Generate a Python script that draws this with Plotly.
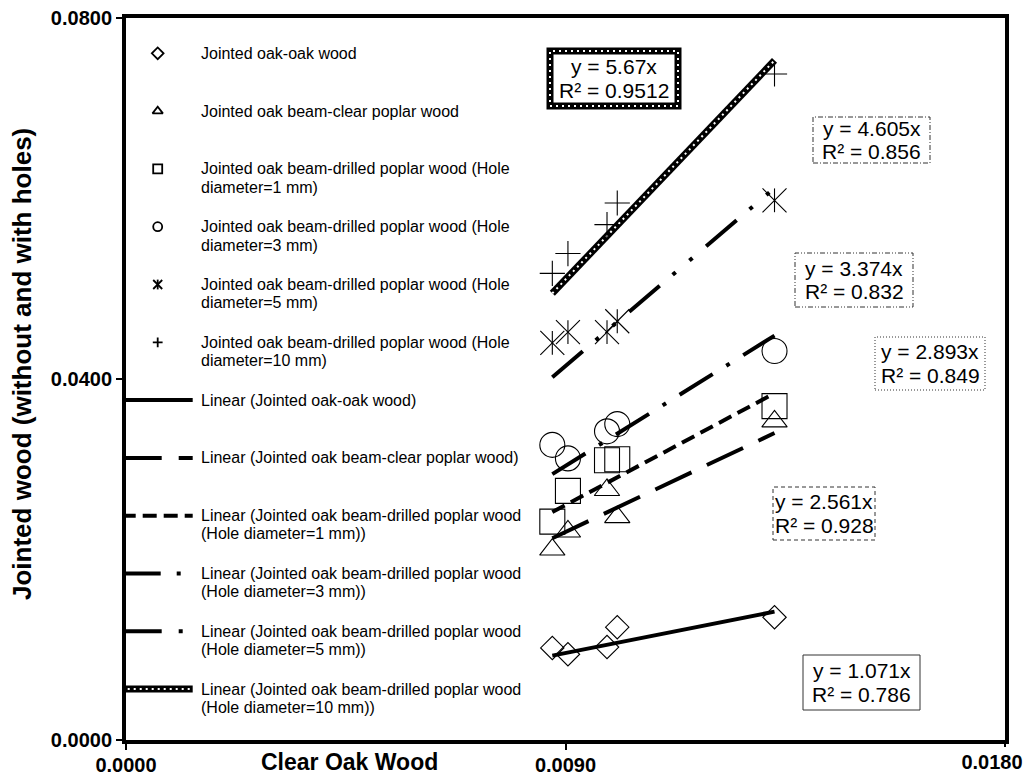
import plotly.graph_objects as go

# ---- data -----------------------------------------------------------------
# Clear oak wood readings (shared x for every joint type)
clear_oak = [0.00873, 0.00905, 0.00985, 0.01006, 0.01328]

# Jointed wood readings, one list per joint type
oak_oak = [0.0102, 0.0095, 0.0103, 0.0125, 0.0136]
clear_poplar = [0.0211, 0.0231, 0.0277, 0.0247, 0.0353]
drilled_1mm = [0.0242, 0.0276, 0.0310, 0.0311, 0.0370]
drilled_3mm = [0.0327, 0.0312, 0.0342, 0.0350, 0.0431]
drilled_5mm = [0.0440, 0.0452, 0.0452, 0.0464, 0.0598]
drilled_10mm = [0.0517, 0.0539, 0.0571, 0.0595, 0.0738]

series_names = [
    "Jointed oak-oak wood",
    "Jointed oak beam-clear poplar wood",
    "Jointed oak beam-drilled poplar wood (Hole diameter=1 mm)",
    "Jointed oak beam-drilled poplar wood (Hole diameter=3 mm)",
    "Jointed oak beam-drilled poplar wood (Hole diameter=5 mm)",
    "Jointed oak beam-drilled poplar wood (Hole diameter=10 mm)",
]

# Linear trend lines through the origin: slope and R² per series
slopes = [1.071, 2.561, 2.893, 3.374, 4.605, 5.67]
r_squared = ["0.786", "0.928", "0.849", "0.832", "0.856", "0.9512"]

x_ticks = [0.0, 0.009, 0.018]
x_tick_labels = ["0.0000", "0.0090", "0.0180"]
y_ticks = [0.0, 0.04, 0.08]
y_tick_labels = ["0.0000", "0.0400", "0.0800"]

x_title = "Clear Oak Wood"
y_title = "Jointed wood (without and with holes)"

# ---- styling --------------------------------------------------------------
W, H = 1025, 777
ML, MR, MT, MB = 126, 20, 18, 37
PW, PH = W - ML - MR, H - MT - MB
FONT = "Liberation Sans, Arial, sans-serif"


def fx(px):
    return (px - ML) / PW


def fy(py):
    return 1 - (py - MT) / PH


# marker symbol layers for each series (star = x plus vertical bar)
symbols = [
    [("diamond-open", 18, 9)],
    [("triangle-up-open", 22, 9)],
    [("square-open", 25, 9)],
    [("circle-open", 25, 9)],
    [("x-thin-open", 24, 9), ("line-ns-open", 17, 7)],
    [("cross-thin-open", 18, 7)],
]

# trend line strokes: list of (width, colour, dash)
trend_styles = [
    [(4, "black", "solid")],
    [(4, "black", "40px,17px")],
    [(4, "black", "14px,7px")],
    [(4, "black", "39px,16px,4px,16px")],
    [(4, "black", "40px,17px,4px,18px,4px,18px")],
    [(7, "black", "solid"), (2, "white", "2px,4px")],
]

series_values = [oak_oak, clear_poplar, drilled_1mm, drilled_3mm,
                 drilled_5mm, drilled_10mm]

fig = go.Figure()

# trend lines drawn from the stated slopes across the measured range
x_lo, x_hi = min(clear_oak), max(clear_oak)
for slope, styles in zip(slopes, trend_styles):
    for width, colour, dash in styles:
        fig.add_trace(go.Scatter(
            x=[x_lo, x_hi], y=[slope * x_lo, slope * x_hi], mode="lines",
            line=dict(color=colour, width=width, dash=dash),
            hoverinfo="skip", showlegend=False))

# measured points
for name, vals, layers in zip(series_names, series_values, symbols):
    for sym, size, _ in layers:
        fig.add_trace(go.Scatter(
            x=clear_oak, y=vals, mode="markers", name=name,
            marker=dict(symbol=sym, size=size, color="black",
                        line=dict(color="black", width=1.1)),
            showlegend=False))

# empty trace that brings up the secondary x axis carrying the last tick
fig.add_trace(go.Scatter(x=[], y=[], xaxis="x3", yaxis="y",
                         hoverinfo="skip", showlegend=False))

# ---- legend (drawn on an overlay axis in figure-fraction units) ------------
LEG_TOP, LEG_STEP, LEG_LINE = 53.3, 57.8, 18.3
SYM_X, TEXT_X = 157.7, 198.5
annotations = []


def legend_text(lines, row):
    y0 = LEG_TOP + LEG_STEP * row
    for k, line in enumerate(lines):
        annotations.append(dict(
            x=fx(TEXT_X), y=fy(y0 + k * LEG_LINE), xref="paper", yref="paper",
            text=line, showarrow=False, xanchor="left", yanchor="middle",
            font=dict(family=FONT, size=16, color="black")))
    return y0


for i, (name, layers) in enumerate(zip(series_names, symbols)):
    if "(Hole" in name:
        head, tail = name.split(" (Hole ")
        lines = [head + " (Hole", tail]
    else:
        lines = [name]
    y0 = legend_text(lines, i)
    for sym, _, lsize in layers:
        fig.add_trace(go.Scatter(
            x=[fx(SYM_X)], y=[fy(y0)], xaxis="x2", yaxis="y2", mode="markers",
            marker=dict(symbol=sym, size=lsize, color="black",
                        line=dict(color="black", width=1.8)),
            cliponaxis=False, hoverinfo="skip", showlegend=False))

for i, (name, styles) in enumerate(zip(series_names, trend_styles)):
    full = "Linear (" + name + ")"
    if "(Hole" in name:
        head, tail = full.split(" (Hole ")
        lines = [head, "(Hole " + tail]
    else:
        lines = [full]
    y0 = legend_text(lines, 6 + i)
    for width, colour, dash in styles:
        fig.add_trace(go.Scatter(
            x=[fx(121.7), fx(192.7)], y=[fy(y0), fy(y0)], xaxis="x2",
            yaxis="y2", mode="lines",
            line=dict(color=colour, width=width, dash=dash),
            hoverinfo="skip", showlegend=False))

# ---- equation boxes ---------------------------------------------------------
# (slope index, left, right, top, bottom, border dash)
eq_boxes = [
    (5, 550, 678, 51, 106, "thick"),
    (4, 813, 930, 117, 163, "5px,2px,1px,2px"),
    (3, 795, 913, 253, 307, "5px,2px,1px,2px,1px,2px"),
    (2, 875, 985, 337, 390, "1px,2px"),
    (1, 773, 875, 487, 540, "4px,3px"),
    (0, 803, 920, 655, 710, "solid"),
]
shapes = []
for idx, x0, x1, y0, y1, dash in eq_boxes:
    rect = dict(type="rect", xref="paper", yref="paper",
                x0=fx(x0), x1=fx(x1), y0=fy(y1), y1=fy(y0),
                fillcolor="white", layer="above")
    if dash == "thick":
        shapes.append(dict(rect, line=dict(color="black", width=7)))
        shapes.append(dict(rect, fillcolor="rgba(0,0,0,0)",
                           line=dict(color="white", width=2, dash="2px,4px")))
    else:
        shapes.append(dict(rect, line=dict(color="#333333", width=1,
                                           dash=dash)))
    yc = (y0 + y1) / 2
    xc = (x0 + x1) / 2
    for k, line in enumerate([f"y = {slopes[idx]}x",
                              f"R² = {r_squared[idx]}"]):
        annotations.append(dict(
            x=fx(xc), y=fy(yc - 11.7 + 23.4 * k), xref="paper", yref="paper",
            text=line, showarrow=False, xanchor="center", yanchor="middle",
            font=dict(family=FONT, size=21, color="black")))

# axis titles
annotations.append(dict(
    x=fx(349), y=fy(762), xref="paper", yref="paper", text=f"<b>{x_title}</b>",
    showarrow=False, xanchor="center", yanchor="middle",
    font=dict(family=FONT, size=23, color="black")))
annotations.append(dict(
    x=fx(22), y=fy(364), xref="paper", yref="paper", text=f"<b>{y_title}</b>",
    showarrow=False, xanchor="center", yanchor="middle", textangle=-90,
    font=dict(family=FONT, size=26, color="black")))

tick_font = dict(family=FONT, size=20, color="black", weight="bold")
axis_common = dict(
    showgrid=False, zeroline=False, showline=True, linecolor="black",
    linewidth=4, mirror=True, ticks="outside", ticklen=6, tickwidth=1.5,
    tickcolor="black", automargin=False, tickfont=tick_font)

fig.update_layout(
    width=W, height=H,
    margin=dict(l=ML, r=MR, t=MT, b=MB, autoexpand=False),
    paper_bgcolor="white", plot_bgcolor="white",
    xaxis=dict(axis_common, range=[0, 0.018], tickvals=x_ticks[:-1],
               ticktext=x_tick_labels[:-1], ticklabelstandoff=-2),
    # the right-most label sits a little inside the plot edge
    xaxis3=dict(overlaying="x", anchor="y", side="bottom",
                range=[0, 0.018], showline=False, showgrid=False,
                zeroline=False, ticks="outside", ticklen=6, tickwidth=1.5,
                tickcolor="black", tickvals=x_ticks[-1:],
                ticktext=x_tick_labels[-1:], ticklabelshift=-13,
                ticklabelstandoff=-2, automargin=False,
                ticklabeloverflow="allow", tickfont=tick_font),
    yaxis=dict(axis_common, range=[0, 0.08], tickvals=y_ticks,
               ticktext=y_tick_labels),
    xaxis2=dict(overlaying="x", range=[0, 1], visible=False, fixedrange=True),
    yaxis2=dict(overlaying="y", range=[0, 1], visible=False, fixedrange=True),
    shapes=shapes, annotations=annotations, showlegend=False,
)

fig.write_html("out.html")
